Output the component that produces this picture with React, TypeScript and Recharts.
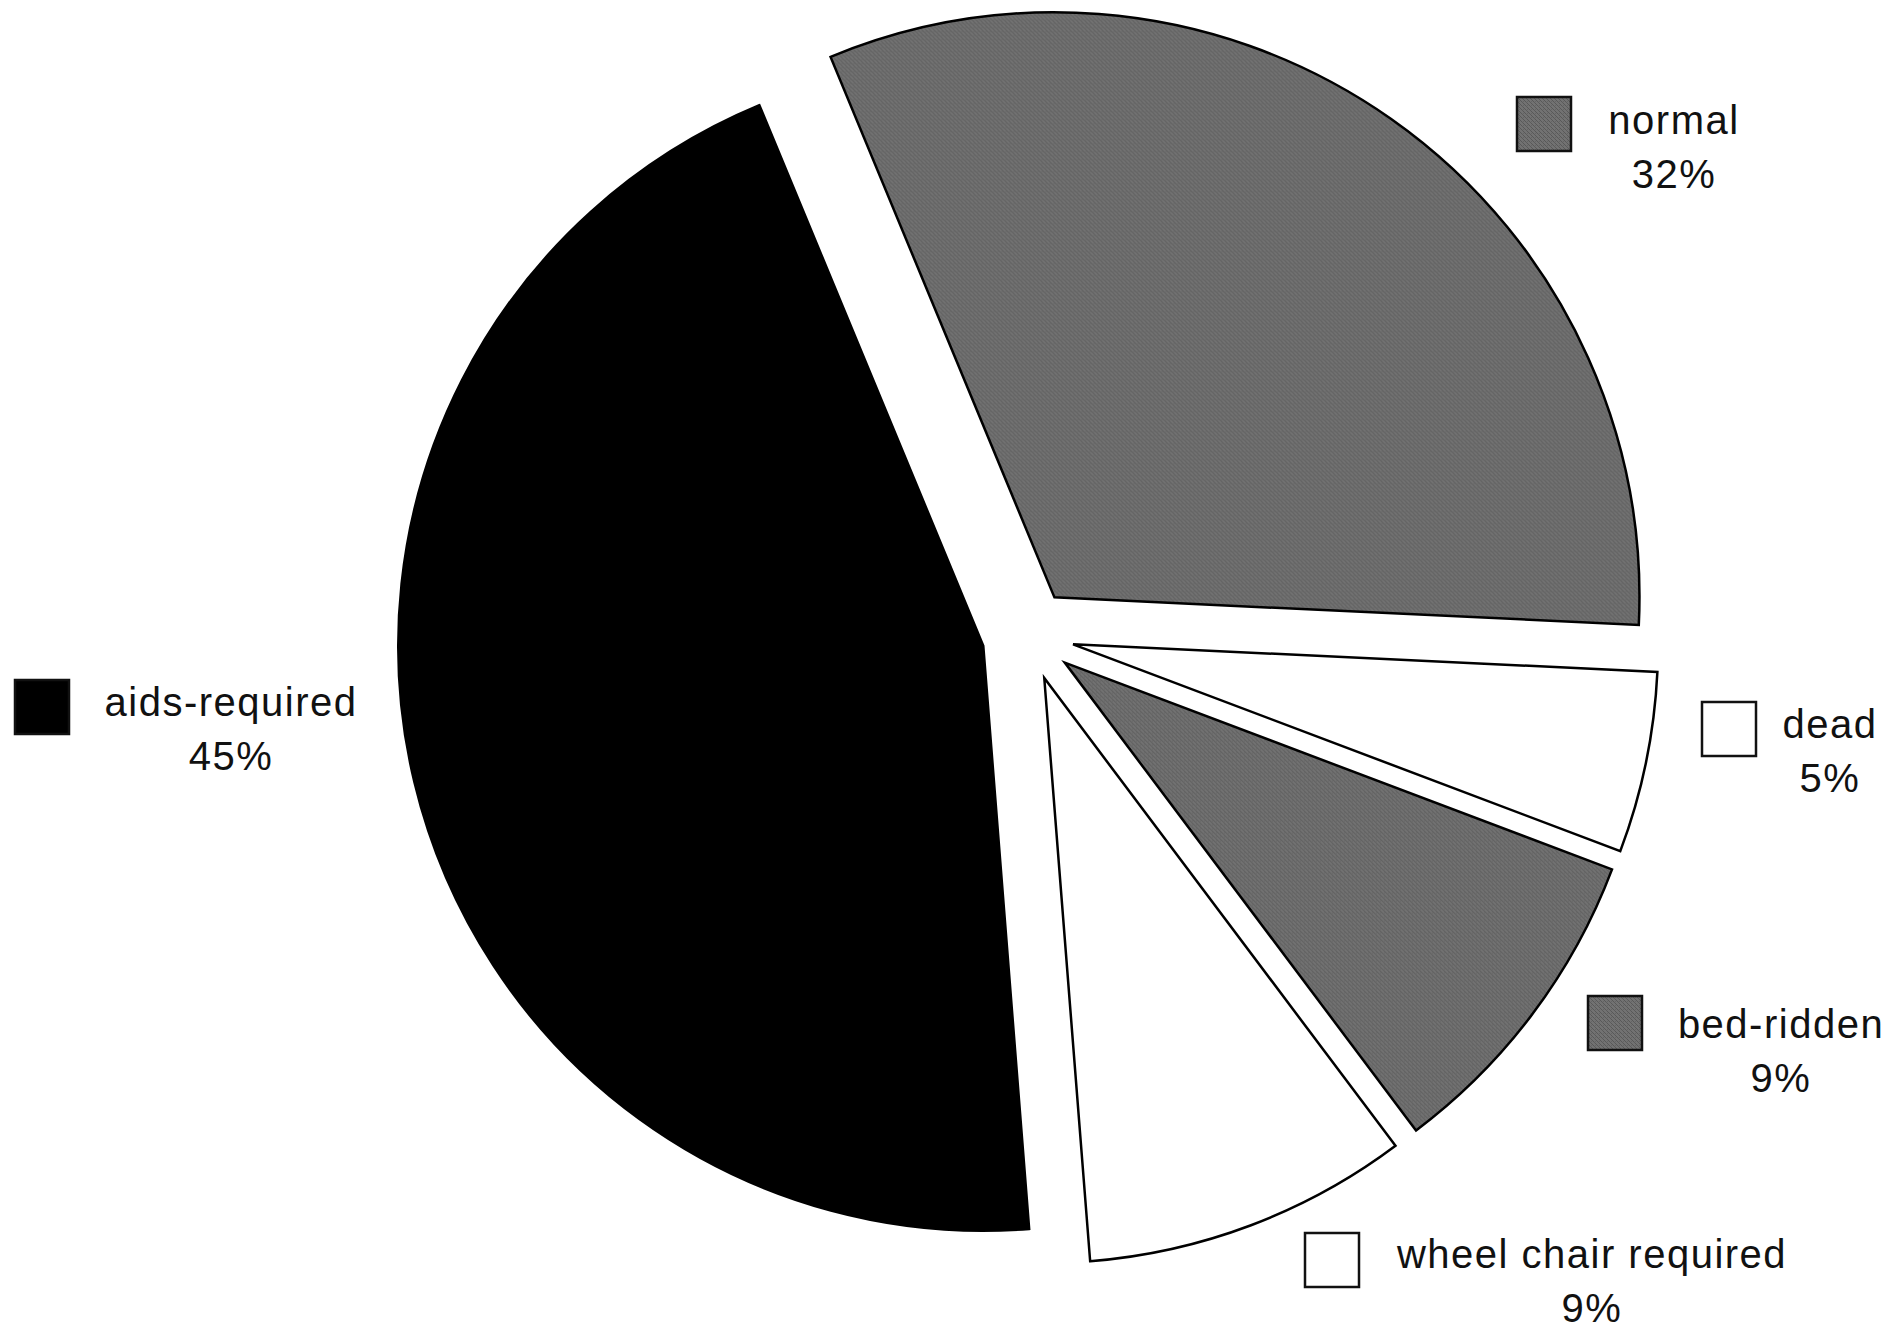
import { Cell, Pie, PieChart } from "recharts";

// categories in clockwise order, starting at the top edge of "normal"
const categories = ["normal", "dead", "bed-ridden", "wheel chair required", "aids-required"];
const percents = [32, 5, 9, 9, 45];
const percentLabels = ["32%", "5%", "9%", "9%", "45%"];

const fills = ["url(#grain)", "#ffffff", "url(#grain)", "#ffffff", "#000000"];

// legend placement next to each slice (box top-left, text centre, two baselines)
const legendPos = [
  { bx: 1517, by: 97, tx: 1674, b1: 134, b2: 188 },
  { bx: 1702, by: 702, tx: 1830, b1: 738, b2: 792 },
  { bx: 1588, by: 996, tx: 1781, b1: 1038, b2: 1092 },
  { bx: 1305, by: 1233, tx: 1592, b1: 1268, b2: 1322 },
  { bx: 15, by: 680, tx: 231, b1: 716, b2: 770 },
];

const START = 112.5;
const EXPLODE = 46;

const data = categories.map((name, i) => ({ name, value: percents[i] }));

// mid angle of each slice, used only to push the slice outward
const total = percents.reduce((a, b) => a + b, 0);
const midAngles: number[] = [];
percents.reduce((acc, v) => {
  midAngles.push(START - ((acc + v / 2) / total) * 360);
  return acc + v;
}, 0);

const FONT = "'Liberation Sans', Arial, Helvetica, sans-serif";

function renderLabel(props: any) {
  const i = props.index as number;
  const p = legendPos[i];
  return (
    <g key={`lbl-${i}`}>
      <rect x={p.bx} y={p.by} width={54} height={54} fill={fills[i]} stroke="#111" strokeWidth={2.5} />
      <text x={p.tx} y={p.b1} textAnchor="middle" fontFamily={FONT} fontSize={40} letterSpacing={1.5} fill="#111">
        {categories[i]}
      </text>
      <text x={p.tx} y={p.b2} textAnchor="middle" fontFamily={FONT} fontSize={40} letterSpacing={1.5} fill="#111">
        {percentLabels[i]}
      </text>
    </g>
  );
}

export default function App() {
  return (
    <div style={{ position: "absolute", left: 0, top: 0, width: 1892, height: 1329, background: "#fff" }}>
      <PieChart width={1892} height={1329} margin={{ top: 0, right: 0, bottom: 0, left: 0 }}>
        <defs>
          <pattern id="grain" width="4" height="4" patternUnits="userSpaceOnUse">
            <rect width="4" height="4" fill="#727272" />
            <rect x="0" y="0" width="1" height="1" fill="#585858" />
            <rect x="1" y="1" width="1" height="1" fill="#585858" />
            <rect x="2" y="2" width="1" height="1" fill="#5c5c5c" />
            <rect x="3" y="3" width="1" height="1" fill="#585858" />
            <rect x="3" y="1" width="1" height="1" fill="#646464" />
          </pattern>
        </defs>
        <Pie
          data={data}
          dataKey="value"
          nameKey="name"
          cx={1028}
          cy={635}
          innerRadius={0}
          outerRadius={585}
          startAngle={START}
          endAngle={START - 360}
          stroke="#000"
          strokeWidth={2.5}
          label={renderLabel}
          labelLine={false}
          isAnimationActive={false}
        >
          {data.map((d, i) => {
            const rad = (midAngles[i] * Math.PI) / 180;
            const dx = EXPLODE * Math.cos(rad);
            const dy = -EXPLODE * Math.sin(rad);
            return (
              <Cell
                key={d.name}
                fill={fills[i]}
                stroke="#000"
                strokeWidth={2.5}
                transform={`translate(${dx.toFixed(2)} ${dy.toFixed(2)})`}
              />
            );
          })}
        </Pie>
      </PieChart>
    </div>
  );
}
